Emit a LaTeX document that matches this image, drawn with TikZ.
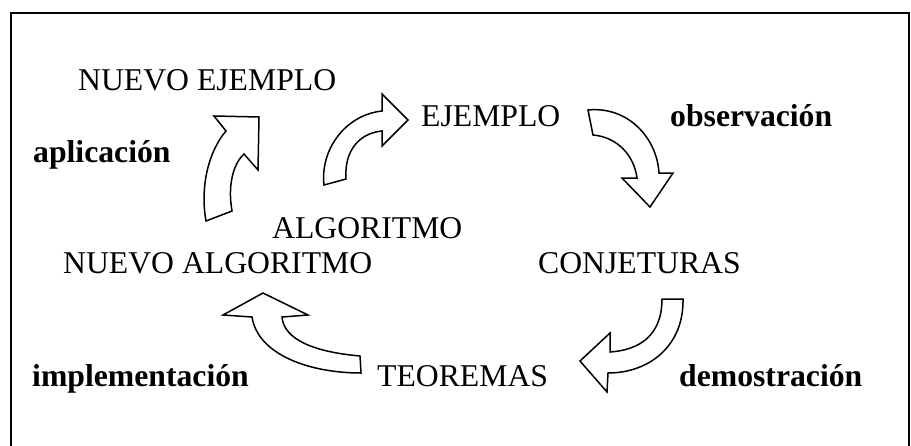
\documentclass[tikz,border=0pt]{standalone}
\usepackage{fontspec}
\setmainfont{Liberation Serif}
\begin{document}
\begin{tikzpicture}[x=1pt,y=-1pt,
  lbl/.style={inner sep=0pt,anchor=base west,font=\fontsize{31.7}{38}\selectfont},
  blbl/.style={lbl,font=\fontsize{31.7}{38}\selectfont\bfseries},
  bigarrow/.style={draw=black,line width=1.5pt,line join=miter,fill=white}]
\useasboundingbox (0,0) rectangle (911,445);
\draw[line width=1.6pt] (11,460) -- (11,13) -- (909,13) -- (909,460);

\node[lbl] (nej) at (78,90) {NUEVO EJEMPLO};
\node[lbl] (ej) at (421,126) {EJEMPLO};
\node[blbl] (obs) at (670,126) {observación};
\node[blbl] (apl) at (33,162) {aplicación};
\node[lbl] (alg) at (272,238) {ALGORITMO};
\node[lbl] (nalg) at (63,273) {NUEVO ALGORITMO};
\node[lbl] (conj) at (538,273) {CONJETURAS};
\node[blbl] (impl) at (32,386) {implementación};
\node[lbl] (teo) at (377,386) {TEOREMAS};
\node[blbl] (dem) at (679,386) {demostración};

% arrow ALGORITMO -> NUEVO EJEMPLO
\draw[bigarrow] (206,221) .. controls (200,188) and (208,152) .. (226,131)
  -- (214,116) -- (259,117) -- (258,170) -- (244,154)
  .. controls (235,162) and (227,182) .. (232,211) -- cycle;
% arrow ALGORITMO -> EJEMPLO
\draw[bigarrow] (324,185) .. controls (320,150) and (345,115) .. (382,111)
  -- (382,94) -- (408,120) -- (382,146) -- (382,131)
  .. controls (360,133) and (344,150) .. (346,179) -- cycle;
% arrow EJEMPLO -> CONJETURAS
\draw[bigarrow] (588,110) .. controls (628,106) and (657,138) .. (659,173)
  -- (673,173) -- (650,207) -- (622,178) -- (637,178)
  .. controls (634,155) and (617,137) .. (593,135) -- cycle;
% arrow CONJETURAS -> TEOREMAS
\draw[bigarrow] (683,299) .. controls (684,345) and (650,373) .. (608,373)
  -- (607,392) -- (580,361) -- (610,333) -- (610,352)
  .. controls (640,350) and (662,335) .. (662,299) -- cycle;
% arrow TEOREMAS -> NUEVO ALGORITMO
\draw[bigarrow] (360,356) .. controls (315,352) and (284,340) .. (282,317)
  -- (308,315) -- (263,293) -- (223,315) -- (252,317)
  .. controls (258,355) and (310,373) .. (361,373) -- cycle;
\end{tikzpicture}
\end{document}
